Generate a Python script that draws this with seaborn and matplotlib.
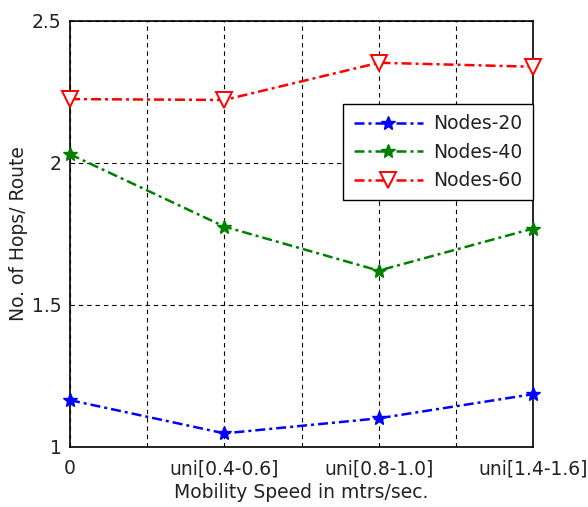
import matplotlib
matplotlib.use("Agg")
import matplotlib.pyplot as plt
import seaborn as sns
import pandas as pd

# Mobility categories (plotted at integer positions 0..3)
speed_labels = ["0", "uni[0.4-0.6]", "uni[0.8-1.0]", "uni[1.4-1.6]"]
speed_pos = [0, 1, 2, 3]

# Average hops per route
hops_nodes20 = [1.165, 1.048, 1.101, 1.186]
hops_nodes40 = [2.031, 1.776, 1.621, 1.769]
hops_nodes60 = [2.225, 2.222, 2.353, 2.339]

series_names = ["Nodes-20", "Nodes-40", "Nodes-60"]

frames = []
for name, vals in zip(series_names, [hops_nodes20, hops_nodes40, hops_nodes60]):
    frames.append(pd.DataFrame({"speed": speed_pos, "hops": vals, "series": name}))
df = pd.concat(frames, ignore_index=True)

sns.set_style("white")
plt.rcParams["font.family"] = ["DejaVu Sans"]
plt.rcParams["font.size"] = 13.5

fig = plt.figure(figsize=(5.88, 5.07), dpi=100)
ax = fig.add_axes([70 / 588, 60 / 507, 463 / 588, 426 / 507])

styles = {
    "Nodes-20": dict(color=(0, 0, 1), marker="*", markersize=10.5,
                     markerfacecolor=(0, 0, 1), markeredgecolor=(0, 0, 1),
                     markeredgewidth=1.0),
    "Nodes-40": dict(color=(0, 0.5, 0), marker="*", markersize=10.5,
                     markerfacecolor=(0, 0.5, 0), markeredgecolor=(0, 0.5, 0),
                     markeredgewidth=1.0),
    "Nodes-60": dict(color=(1, 0, 0), marker="v", markersize=11.5,
                     markerfacecolor="white", markeredgecolor=(1, 0, 0),
                     markeredgewidth=1.4),
}

dashdot = (0, (4.0, 1.6, 1.2, 1.6))
for name in series_names:
    sub = df[df["series"] == name]
    sns.lineplot(data=sub, x="speed", y="hops", ax=ax, label=name,
                 linewidth=1.8, linestyle=dashdot, clip_on=False,
                 zorder=5, **styles[name])

ax.set_xlim(0, 3)
ax.set_ylim(1, 2.5)
xt = [0, 0.5, 1, 1.5, 2, 2.5, 3]
ax.set_xticks(xt)
ax.set_xticklabels(["0", "", speed_labels[1], "", speed_labels[2], "", speed_labels[3]])
ax.set_yticks([1, 1.5, 2, 2.5])
ax.set_yticklabels(["1", "1.5", "2", "2.5"])
ax.tick_params(axis="both", direction="in", length=0, labelsize=13.5,
               colors="#222222", pad=6)
ax.tick_params(axis="x", pad=9)

ax.grid(True, color="black", linestyle=(0, (4, 3.5)), linewidth=0.8)
for s in ax.spines.values():
    s.set_color("black")
    s.set_linewidth(1.2)

ax.set_xlabel("Mobility Speed in mtrs/sec.", fontsize=13.5, color="#222222", labelpad=3)
ax.set_ylabel("No. of Hops/ Route", fontsize=13.5, color="#222222", labelpad=3)

leg = ax.legend(loc="upper right", bbox_to_anchor=(1.0, 0.805), fontsize=13.5,
                frameon=True, fancybox=False, framealpha=1, edgecolor="black",
                borderpad=0.55, labelspacing=0.5, handlelength=3.7,
                handletextpad=0.55, borderaxespad=0)
leg.get_frame().set_linewidth(1.0)
leg.set_zorder(10)
for t in leg.get_texts():
    t.set_color("#222222")

fig.savefig("out.png", dpi=100)
